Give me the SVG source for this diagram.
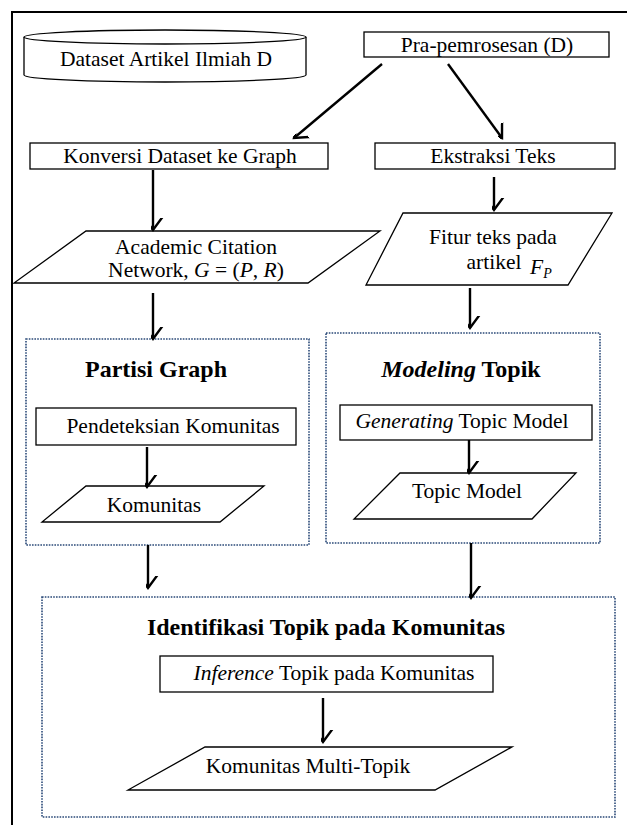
<svg xmlns="http://www.w3.org/2000/svg" width="627" height="825" viewBox="0 0 627 825" font-family="Liberation Serif, Times New Roman, serif">
<style>
text{font-family:'Liberation Serif','Times New Roman',serif;font-size:21.5px;fill:#000}
.c{text-anchor:middle}
.t{font-weight:bold;font-size:24px}
.i{font-style:italic}
.s{fill:#fff;stroke:#000;stroke-width:1.3}
.d{fill:none;stroke:#2b4a78;stroke-width:1.6;stroke-dasharray:1.6 1.2}
.e{fill:none;stroke:#000;stroke-width:2.4}
</style>
<defs>
<marker id="a" viewBox="-12 -16 24 18" refX="0" refY="0" markerWidth="24" markerHeight="18" markerUnits="userSpaceOnUse" orient="auto-start-reverse">
<path d="M-11,-15 L0,0 L11,-15" fill="none" stroke="#000" stroke-width="2.4" transform="rotate(-90)"/>
</marker>
</defs>
<rect width="627" height="825" fill="#fff"/>
<path d="M12,825 V12 H627" fill="none" stroke="#000" stroke-width="2"/>

<g id="dataset">
<path class="s" d="M24,37 V75 A141,7 0 0 0 306,75 V37"/>
<ellipse class="s" cx="165" cy="37" rx="141" ry="7"/>
<text class="c" x="166" y="66" font-family="Liberation Serif, serif">Dataset Artikel Ilmiah D</text>
</g>
<g id="pra">
<rect class="s" x="364" y="32" width="245" height="25"/>
<text class="c" x="487" y="52">Pra-pemrosesan (D)</text>
</g>
<g id="konversi">
<rect class="s" x="30" y="143" width="298" height="26"/>
<text class="c" x="180" y="163">Konversi Dataset ke Graph</text>
</g>
<g id="ekstraksi">
<rect class="s" x="375" y="143" width="240" height="26"/>
<text class="c" x="493" y="163">Ekstraksi Teks</text>
</g>
<g id="academic">
<polygon class="s" points="86,231 380,231 308,283 14,283"/>
<text class="c" x="196" y="254">Academic Citation</text>
<text class="c" x="196" y="277">Network,  <tspan class="i">G</tspan> = (<tspan class="i">P</tspan>, <tspan class="i">R</tspan>)</text>
</g>
<g id="fitur">
<polygon class="s" points="403,213 612,213 568,285 366,285"/>
<text class="c" x="493" y="244">Fitur teks pada</text>
<text class="c" x="494" y="269">artikel</text>
<text class="i" x="530" y="274">F<tspan font-size="14" dy="4">P</tspan></text>
</g>

<g id="partisi">
<rect class="d" x="26" y="339" width="283" height="206"/>
<text class="c t" x="156" y="377">Partisi Graph</text>
<g id="pendeteksian">
<rect class="s" x="36" y="408" width="260" height="37"/>
<text class="c" x="173" y="433">Pendeteksian Komunitas</text>
</g>
<g id="komunitas">
<polygon class="s" points="86,486 264,486 220,522 42,522"/>
<text class="c" x="154" y="512">Komunitas</text>
</g>
</g>

<g id="modeling">
<rect class="d" x="326" y="333" width="274" height="210"/>
<text class="c t" x="461" y="377"><tspan class="i">Modeling</tspan> Topik</text>
<g id="generating">
<rect class="s" x="340" y="405" width="252" height="35"/>
<text class="c" x="462" y="428"><tspan class="i">Generating</tspan> Topic Model</text>
</g>
<g id="topicmodel">
<polygon class="s" points="400,473 576,473 532,519 354,519"/>
<text class="c" x="467" y="498">Topic Model</text>
</g>
</g>

<g id="identifikasi">
<rect class="d" x="42" y="597" width="573" height="220"/>
<text class="c t" x="326" y="635">Identifikasi Topik pada Komunitas</text>
<g id="inference">
<rect class="s" x="160" y="656" width="333" height="36"/>
<text class="c" x="334" y="680"><tspan class="i">Inference</tspan> Topik pada Komunitas</text>
</g>
<g id="multi">
<polygon class="s" points="205,747 512,747 435,790 128,790"/>
<text class="c" x="308" y="773">Komunitas Multi-Topik</text>
</g>
</g>

<g id="connectors">
<line class="e" x1="382" y1="64" x2="294" y2="138" marker-end="url(#a)"/>
<line class="e" x1="448" y1="64" x2="502" y2="138" marker-end="url(#a)"/>
<line class="e" x1="153" y1="170" x2="153" y2="230" marker-end="url(#a)"/>
<line class="e" x1="494" y1="177" x2="494" y2="210" marker-end="url(#a)"/>
<line class="e" x1="153" y1="293" x2="153" y2="339" marker-end="url(#a)"/>
<line class="e" x1="470" y1="288" x2="470" y2="328" marker-end="url(#a)"/>
<line class="e" x1="147" y1="447" x2="147" y2="487" marker-end="url(#a)"/>
<line class="e" x1="469" y1="440" x2="469" y2="473" marker-end="url(#a)"/>
<line class="e" x1="148" y1="545" x2="148" y2="588" marker-end="url(#a)"/>
<line class="e" x1="471" y1="543" x2="471" y2="598" marker-end="url(#a)"/>
<line class="e" x1="323" y1="698" x2="323" y2="742" marker-end="url(#a)"/>
</g>
</svg>
